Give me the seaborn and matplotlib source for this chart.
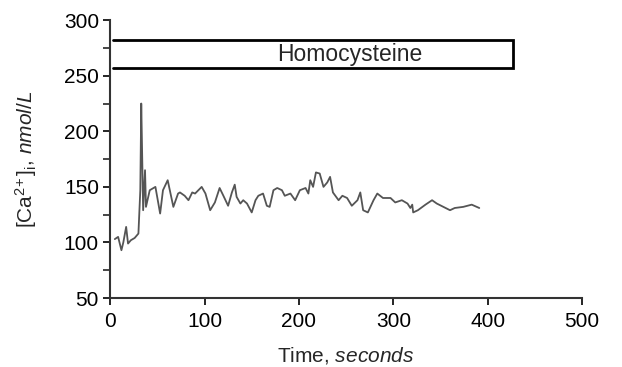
import matplotlib
matplotlib.use("Agg")
import matplotlib.pyplot as plt
import seaborn as sns
import pandas as pd

# Trace (time in s, [Ca2+]i in nmol/L)
time_s = [5, 8.5, 12, 14, 17, 19, 22, 26, 30, 32, 33, 34, 35, 37, 38, 42, 48, 53, 56, 61, 67,
          72, 74, 79, 83, 87, 90, 97, 101, 106, 111, 116, 120, 125, 129, 132, 134, 138, 141,
          145, 150, 154, 157, 162, 166, 169, 173, 177, 182, 185, 191, 196, 201, 207, 210, 212,
          215, 218, 222, 226, 230, 233, 236, 242, 246, 251, 256, 262, 265, 268, 273, 279, 283,
          289, 297, 302, 309, 315, 318, 320, 321, 326, 334, 341, 346, 353, 360, 365, 374, 383,
          391]
calcium = [103, 105, 93, 100, 114, 99, 102, 104, 108, 147, 225, 177, 129, 165, 132, 147, 150,
           126, 147, 156, 132, 144, 145, 142, 138, 145, 144, 150, 144, 129, 136, 149, 142, 133,
           145, 152, 141, 135, 138, 135, 127, 138, 142, 144, 133, 132, 147, 149, 147, 142, 144,
           138, 147, 149, 144, 156, 150, 163, 162, 150, 154, 159, 145, 138, 142, 140, 133, 138,
           145, 129, 127, 138, 144, 140, 140, 136, 138, 135, 131, 134, 127, 129, 134, 138, 135,
           132, 129, 131, 132, 134, 131]

bar_label = "Homocysteine"
bar_start, bar_end = 3, 427
bar_low, bar_high = 257, 282

df = pd.DataFrame({"t": time_s, "ca": calcium})

sns.set_style("ticks")
plt.rcParams["font.family"] = ["Liberation Sans", "DejaVu Sans"]
plt.rcParams["mathtext.fontset"] = "custom"
plt.rcParams["mathtext.rm"] = "Liberation Sans"
plt.rcParams["mathtext.it"] = "Liberation Sans:italic"

fig = plt.figure(figsize=(6.22, 3.67), dpi=100)
ax = fig.add_axes([0.177, 0.188, 0.759, 0.757])

sns.lineplot(data=df, x="t", y="ca", ax=ax, color="#555555", linewidth=1.3, sort=False)

# treatment bar
ax.plot([bar_start, bar_end, bar_end, bar_start], [bar_high, bar_high, bar_low, bar_low],
        color="black", linewidth=2, solid_joinstyle="miter")
ax.text(254, (bar_low + bar_high) / 2, bar_label, ha="center", va="center", fontsize=16.5)

ax.set_xlim(0, 500)
ax.set_ylim(50, 300)
ax.set_xticks(range(0, 501, 100))
ax.set_yticks(range(50, 301, 50))
ax.set_yticks(range(75, 300, 50), minor=True)
ax.tick_params(axis="both", labelsize=15, direction="out", length=5, width=1.2,
               colors="black", pad=3)
ax.tick_params(axis="x", pad=5)
ax.tick_params(axis="y", which="minor", length=5, width=1.2)
for s in ["top", "right"]:
    ax.spines[s].set_visible(False)
for s in ["left", "bottom"]:
    ax.spines[s].set_linewidth(1.5)
    ax.spines[s].set_color("#333333")

ax.set_xlabel(r"Time, $\it{seconds}$", fontsize=15, labelpad=10)
ax.set_ylabel(r"[Ca$^{2\!+}$]$_{\rm i}$, $\it{nmol/L}$", fontsize=15, labelpad=18)

fig.savefig("out.png", dpi=100)
